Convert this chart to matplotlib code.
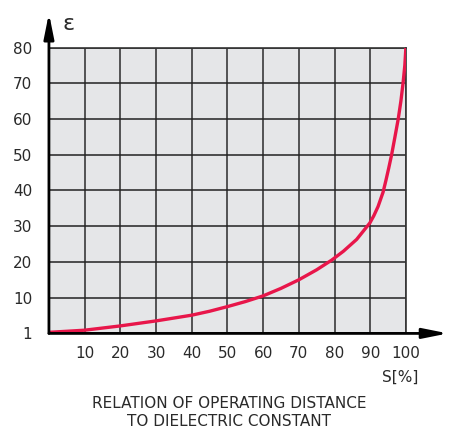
import matplotlib
matplotlib.use("Agg")
import matplotlib.pyplot as plt

# operating distance S [%] vs dielectric constant
s_pct = [0, 10, 20, 30, 40, 45, 50, 55, 60, 65, 70, 75, 79.2, 82.5, 86.2, 89.9,
         91.0, 92.2, 93.6, 94.4, 95.2, 96.0, 96.9, 97.85, 98.6, 99.2, 99.7, 100]
eps = [0.3, 0.9, 2.1, 3.5, 5.1, 6.2, 7.5, 8.9, 10.5, 12.6, 15.0, 17.8, 20.5,
       23.0, 26.3, 30.9, 32.9, 35.5, 39.5, 42.8, 46.3, 50.0, 54.8, 60.0, 65.0,
       70.0, 75.0, 80.0]

x_ticks = [10, 20, 30, 40, 50, 60, 70, 80, 90, 100]
y_ticks = [0, 10, 20, 30, 40, 50, 60, 70, 80]
y_labels = ["1", "10", "20", "30", "40", "50", "60", "70", "80"]

title_lines = ["RELATION OF OPERATING DISTANCE", "TO DIELECTRIC CONSTANT"]

plt.rcParams['font.family'] = ['DejaVu Sans']

fig = plt.figure(figsize=(4.49, 4.28), dpi=100)
ax = fig.add_axes([0.109, 0.221, 0.795, 0.668])
ax.set_facecolor('#e5e6e8')

ax.plot(s_pct, eps, color='#e8164a', lw=2.4, solid_capstyle='round',
        solid_joinstyle='round', zorder=3)

ax.set_xlim(0, 100)
ax.set_ylim(0, 80)
ax.set_xticks(x_ticks)
ax.set_yticks(y_ticks)
ax.set_yticklabels(y_labels)
ax.tick_params(length=0, labelsize=11, colors='#2a2a2a')
ax.tick_params(axis='y', pad=12)
ax.tick_params(axis='x', pad=9)
ax.xaxis.grid(True, color='#3a3a3a', lw=1.2)
ax.yaxis.grid(True, color='#222222', lw=1.1)
ax.set_axisbelow(True)

for side in ['top', 'right']:
    ax.spines[side].set_color('#333333')
    ax.spines[side].set_linewidth(1.2)
for side in ['left', 'bottom']:
    ax.spines[side].set_visible(False)

# axis lines with arrow heads
arrow = dict(arrowstyle='-|>,head_length=1.5,head_width=0.3', lw=2.0,
             color='black', mutation_scale=10, shrinkA=0, shrinkB=0)
ax.annotate('', xy=(0, 1.12), xytext=(0, 0), xycoords='axes fraction',
            arrowprops=arrow, annotation_clip=False)
ax.annotate('', xy=(1.118, 0), xytext=(0, 0), xycoords='axes fraction',
            arrowprops=arrow, annotation_clip=False)

fig.text(63 / 449, 1 - 24 / 428, 'ε', fontsize=16, ha='left', va='center',
         color='#2a2a2a')
fig.text(418 / 449, 1 - 377 / 428, 'S[%]', fontsize=11, ha='right', va='center',
         color='#2a2a2a')
fig.text(229 / 449, 1 - 404 / 428, title_lines[0], fontsize=11, ha='center',
         va='center', color='#2a2a2a')
fig.text(229 / 449, 1 - 421 / 428, title_lines[1], fontsize=11, ha='center',
         va='center', color='#2a2a2a')

fig.savefig('out.png', dpi=100)
